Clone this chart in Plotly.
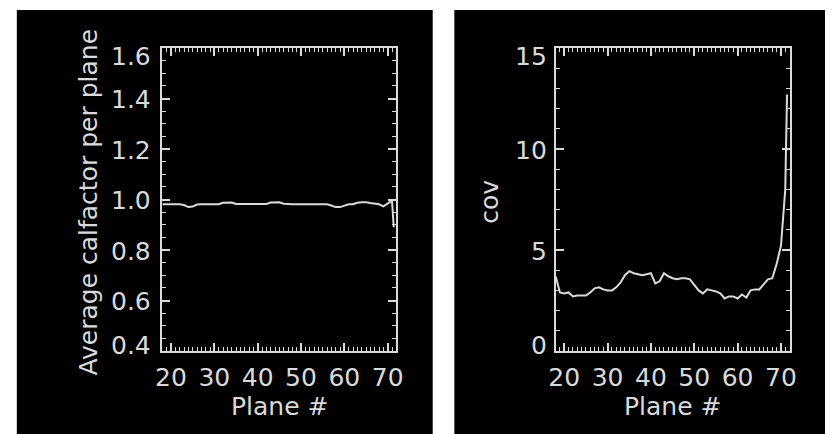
import plotly.graph_objects as go

W, H = 832, 434

planes = list(range(18, 72)) + [71.4]

calfactor = [0.981, 0.981, 0.981, 0.981, 0.981, 0.978, 0.970, 0.972, 0.980, 0.981,
             0.981, 0.981, 0.981, 0.981, 0.987, 0.989, 0.988, 0.982, 0.982, 0.982,
             0.982, 0.982, 0.982, 0.982, 0.982, 0.988, 0.989, 0.989, 0.983, 0.981,
             0.981, 0.981, 0.981, 0.981, 0.981, 0.981, 0.981, 0.981, 0.981, 0.976,
             0.970, 0.970, 0.975, 0.981, 0.981, 0.987, 0.989, 0.989, 0.986, 0.982,
             0.981, 0.973, 0.985, 0.995, 0.890]

cov = [3.7, 2.9, 2.85, 2.9, 2.7, 2.75, 2.75, 2.75, 2.9, 3.1,
       3.15, 3.05, 3.0, 3.0, 3.15, 3.4, 3.75, 3.95, 3.85, 3.8,
       3.75, 3.8, 3.85, 3.35, 3.45, 3.85, 3.7, 3.6, 3.55, 3.6,
       3.6, 3.55, 3.3, 3.0, 2.85, 3.05, 3.0, 2.95, 2.85, 2.6,
       2.7, 2.7, 2.6, 2.8, 2.65, 3.0, 3.05, 3.05, 3.3, 3.55,
       3.6, 4.3, 5.2, 8.0, 12.7]

x_ticks = [20, 30, 40, 50, 60, 70]
x_ticklabels = ["20", "30", "40", "50", "60", "70"]
y1_ticks = [0.4, 0.6, 0.8, 1.0, 1.2, 1.4, 1.6]
y1_ticklabels = ["0.4", "0.6", "0.8", "1.0", "1.2", "1.4", "1.6"]
y2_ticks = [0, 5, 10, 15]
y2_ticklabels = ["0", "5", "10", "15"]

x_title = "Plane #"
y1_title = "Average calfactor per plane"
y2_title = "cov"

FG = "#dadada"
FONT = "DejaVu Sans"
FS = 25

def px(x):
    return x / W

def py(y):
    return 1 - y / H

fig = go.Figure()
fig.add_trace(go.Scatter(x=planes, y=calfactor, mode="lines",
                         line=dict(color=FG, width=2), xaxis="x", yaxis="y",
                         showlegend=False, hoverinfo="skip"))
fig.add_trace(go.Scatter(x=planes, y=cov, mode="lines",
                         line=dict(color=FG, width=2), xaxis="x2", yaxis="y2",
                         showlegend=False, hoverinfo="skip"))

ydom = [py(351), py(48)]

def xaxis(dom):
    return dict(domain=dom, range=[18, 72], tickmode="array", tickvals=x_ticks,
                ticktext=x_ticklabels, ticks="inside", ticklen=8, tickwidth=1.5,
                tickcolor=FG, showline=True, linecolor=FG, linewidth=2,
                mirror="allticks", showgrid=False, zeroline=False,
                tickfont=dict(family=FONT, size=FS, color=FG),
                ticklabelstandoff=3,
                minor=dict(ticks="inside", dtick=1, tick0=0, ticklen=4,
                           tickwidth=1, tickcolor=FG, showgrid=False),
                fixedrange=True)

def yaxis(rng, tv, mdt, anchor):
    return dict(domain=ydom, range=rng, tickmode="array", tickvals=tv,
                showticklabels=False, ticks="inside", ticklen=8, tickwidth=1.5,
                tickcolor=FG, showline=True, linecolor=FG, linewidth=2,
                mirror="allticks", showgrid=False, zeroline=False, anchor=anchor,
                minor=dict(ticks="inside", dtick=mdt, ticklen=4, tickwidth=1,
                           tickcolor=FG, showgrid=False),
                fixedrange=True)

fig.update_layout(
    width=W, height=H,
    margin=dict(l=0, r=0, t=0, b=0),
    paper_bgcolor="white",
    plot_bgcolor="black",
    xaxis=xaxis([px(158), px(396)]) | dict(anchor="y"),
    xaxis2=xaxis([px(558), px(796)]) | dict(anchor="y2"),
    yaxis=yaxis([0.4, 1.6], y1_ticks, 0.05, "x"),
    yaxis2=yaxis([0, 15], y2_ticks, 1, "x2"),
)

# black panels
for x0, x1 in [(10, 433), (455, W)]:
    fig.add_shape(type="rect", xref="paper", yref="paper", x0=px(x0), x1=px(x1),
                  y0=0, y1=py(10), fillcolor="black", line=dict(width=0),
                  layer="below")

ann = []
def ylabels(vals, texts, yref, xr):
    lo, hi = min(vals), max(vals)
    for v, t in zip(vals, texts):
        shift = -9 if v == hi else (6 if v == lo else -1)
        ann.append(dict(x=px(xr), y=v, xref="paper", yref=yref, text=t,
                        showarrow=False, xanchor="right", yanchor="middle",
                        yshift=shift, font=dict(family=FONT, size=FS, color=FG)))

ylabels(y1_ticks, y1_ticklabels, "y", 149)
ylabels(y2_ticks, y2_ticklabels, "y2", 551)

for cx in [277, 677]:
    ann.append(dict(x=px(cx), y=py(406), xref="paper", yref="paper", text=x_title,
                    showarrow=False, xanchor="center", yanchor="middle",
                    font=dict(family=FONT, size=FS, color=FG)))
ann.append(dict(x=px(82), y=py(202), xref="paper", yref="paper", text=y1_title,
                showarrow=False, textangle=-90, xanchor="center", yanchor="middle",
                font=dict(family=FONT, size=FS, color=FG)))
ann.append(dict(x=px(490), y=py(202), xref="paper", yref="paper", text=y2_title,
                showarrow=False, textangle=-90, xanchor="center", yanchor="middle",
                font=dict(family=FONT, size=FS, color=FG)))
fig.update_layout(annotations=ann)

fig.write_html("out.html", config={"displayModeBar": False},
               post_script="document.body.style.margin='0';")
